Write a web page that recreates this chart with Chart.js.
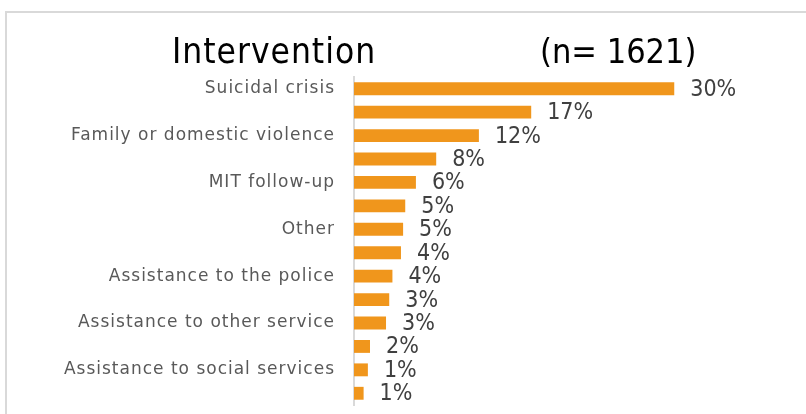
<!DOCTYPE html>
<html>
<head>
<meta charset="utf-8">
<script src="https://cdn.jsdelivr.net/npm/chart.js@4/dist/chart.umd.min.js"></script>
<style>
  html, body { margin: 0; padding: 0; background: #fff; overflow: hidden; }
  #frame { position: absolute; left: 5px; top: 11px; width: 900px; height: 500px;
           border-left: 2px solid #d9d9d9; border-top: 2px solid #d9d9d9; }
  #barChart { position: absolute; left: 0; top: 0; }
</style>
</head>
<body>
<div id="frame"></div>
<canvas id="barChart" width="806" height="414"></canvas>
<script>
// Categories (only every other label is readable in the picture)
const categories = [
  'Suicidal crisis', '',
  'Family or domestic violence', '',
  'MIT follow-up', '',
  'Other', '',
  'Assistance to the police', '',
  'Assistance to other service', '',
  'Assistance to social services', ''
];

// Share of interventions (%)
const shares = [30, 16.6, 11.7, 7.7, 5.8, 4.8, 4.6, 4.4, 3.6, 3.3, 3.0, 1.5, 1.3, 0.9];

const titleMain = 'Intervention';
const titleCount = '(n= 1621)';

// Draw the two-part title
const titlePlugin = {
  id: 'titleParts',
  afterDraw(chart) {
    const c = chart.ctx;
    c.save();
    c.fillStyle = '#000';
    c.font = '35px "DejaVu Sans Condensed"';
    c.textBaseline = 'alphabetic';
    c.textAlign = 'left';
    c.letterSpacing = '1px';
    c.fillText(titleMain, 172, 63);
    c.letterSpacing = '0px';
    c.font = '34px "DejaVu Sans Condensed"';
    c.fillText(titleCount, 540, 63);
    c.restore();
  }
};

// Wider spacing for the category labels, like the original
const tickSpacing = {
  id: 'tickSpacing',
  beforeDraw(chart) { chart.ctx.letterSpacing = '1px'; },
  afterDraw(chart) { chart.ctx.letterSpacing = '0px'; }
};

// Percent labels after each bar
const valueLabels = {
  id: 'valueLabels',
  afterDatasetsDraw(chart) {
    const c = chart.ctx;
    const meta = chart.getDatasetMeta(0);
    c.save();
    c.letterSpacing = '0px';
    c.fillStyle = '#404040';
    c.font = '23px "DejaVu Sans Condensed"';
    c.textAlign = 'left';
    c.textBaseline = 'middle';
    meta.data.forEach((bar, i) => {
      c.fillText(Math.round(shares[i]) + '%', bar.x + 16, bar.y + 1);
    });
    c.restore();
  }
};

new Chart(document.getElementById('barChart'), {
  type: 'bar',
  data: {
    labels: categories,
    datasets: [{
      data: shares,
      backgroundColor: '#F0961C',
      borderWidth: 0,
      barPercentage: 0.55,
      categoryPercentage: 1
    }]
  },
  options: {
    indexAxis: 'y',
    responsive: false,
    animation: false,
    devicePixelRatio: 1,
    layout: { padding: { top: 77, bottom: 9, right: 25, left: 0 } },
    scales: {
      x: {
        display: false,
        min: 0,
        max: 40
      },
      y: {
        afterFit: function(scale) {
          scale.width = 354;
          scale.paddingTop = 0;
          scale.paddingBottom = 0;
        },
        grid: { display: false, drawTicks: false },
        border: { display: true, color: '#d9d9d9', width: 2 },
        ticks: {
          autoSkip: false,
          padding: 19,
          color: '#595959',
          font: { family: 'DejaVu Sans', size: 17 }
        }
      }
    },
    plugins: {
      legend: { display: false },
      title: { display: false },
      tooltip: { enabled: false }
    }
  },
  plugins: [tickSpacing, titlePlugin, valueLabels]
});
</script>
</body>
</html>
